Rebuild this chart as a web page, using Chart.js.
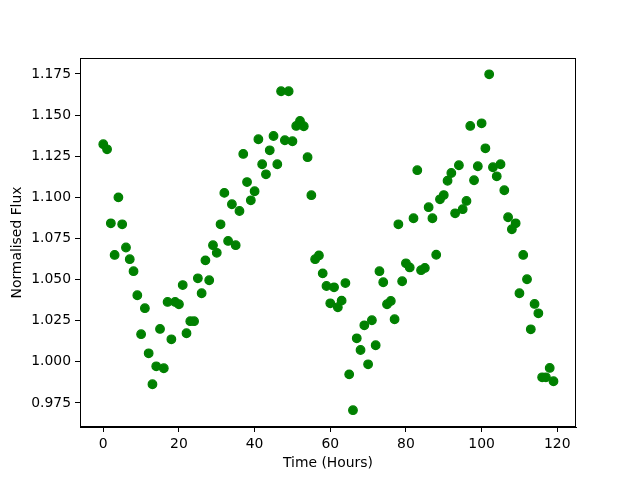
<!DOCTYPE html>
<html>
<head>
<meta charset="utf-8">
<script src="https://cdn.jsdelivr.net/npm/chart.js@4/dist/chart.umd.min.js"></script>
<style>
  body { margin: 0; background: #ffffff; }
  canvas { display: block; }
</style>
</head>
<body>
<canvas id="chart" width="640" height="480"></canvas>
<script>
// Data
const hours = [
  0, 1, 2, 3, 4, 5, 6, 7, 8, 9,
  10, 11, 12, 13, 14, 15, 16, 17, 18, 19,
  20, 21, 22, 23, 24, 25, 26, 27, 28, 29,
  30, 31, 32, 33, 34, 35, 36, 37, 38, 39,
  40, 41, 42, 43, 44, 45, 46, 47, 48, 49,
  50, 51, 52, 53, 54, 55, 56, 57, 58, 59,
  60, 61, 62, 63, 64, 65, 66, 67, 68, 69,
  70, 71, 72, 73, 74, 75, 76, 77, 78, 79,
  80, 81, 82, 83, 84, 85, 86, 87, 88, 89,
  90, 91, 92, 93, 94, 95, 96, 97, 98, 99,
  100, 101, 102, 103, 104, 105, 106, 107, 108, 109,
  110, 111, 112, 113, 114, 115, 116, 117, 118, 119
];
const flux = [
  1.1323, 1.1292, 1.0842, 1.0650, 1.1000, 1.0836, 1.0695, 1.0624, 1.0551, 1.0405,
  1.0168, 1.0326, 1.0052, 0.9864, 0.9973, 1.0200, 0.9961, 1.0364, 1.0137, 1.0364,
  1.0350, 1.0467, 1.0174, 1.0247, 1.0247, 1.0508, 1.0417, 1.0617, 1.0496, 1.0709,
  1.0663, 1.0836, 1.1027, 1.0735, 1.0958, 1.0709, 1.0917, 1.1264, 1.1093, 1.0982,
  1.1037, 1.1353, 1.1201, 1.1140, 1.1286, 1.1373, 1.1201, 1.1645, 1.1347, 1.1645,
  1.1341, 1.1434, 1.1464, 1.1432, 1.1244, 1.1013, 1.0624, 1.0647, 1.0538, 1.0461,
  1.0356, 1.0453, 1.0332, 1.0372, 1.0479, 0.9924, 0.9706, 1.0143, 1.0072, 1.0222,
  0.9985, 1.0253, 1.0101, 1.0551, 1.0484, 1.0350, 1.0370, 1.0259, 1.0836, 1.0490,
  1.0599, 1.0574, 1.0873, 1.1165, 1.0557, 1.0571, 1.0940, 1.0873, 1.0651, 1.0988,
  1.1014, 1.1101, 1.1148, 1.0903, 1.1195, 1.0928, 1.0978, 1.1434, 1.1104, 1.1189,
  1.1450, 1.1298, 1.1748, 1.1183, 1.1128, 1.1201, 1.1043, 1.0879, 1.0806, 1.0842,
  1.0417, 1.0650, 1.0502, 1.0198, 1.0352, 1.0295, 0.9906, 0.9906, 0.9963, 0.9882
];
const xTicks = [0, 20, 40, 60, 80, 100, 120];
const yTicks = [0.975, 1.000, 1.025, 1.050, 1.075, 1.100, 1.125, 1.150, 1.175];

let points = [];
for (let i = 0; i < hours.length; i++) {
  points.push({ x: hours[i], y: flux[i] });
}

Chart.defaults.font.family = "'DejaVu Sans', sans-serif";
Chart.defaults.font.size = 13.9;
Chart.defaults.color = "#000000";

// draw the box around the plot like matplotlib spines
const frame = {
  id: "frame",
  afterDraw(chart) {
    const { ctx, chartArea: a } = chart;
    ctx.save();
    ctx.strokeStyle = "#000000";
    ctx.lineWidth = 1;
    ctx.strokeRect(a.left + 0.5, a.top + 0.5, a.right - a.left - 1, a.bottom - a.top - 1);
    ctx.restore();
  }
};

let tickGrid = {
  display: true,
  drawOnChartArea: false,
  drawTicks: true,
  tickLength: 5,
  color: "#000000",
  tickWidth: 1
};

let config = {
  type: "scatter",
  data: {
    datasets: [{
      data: points,
      backgroundColor: "#008000",
      borderColor: "#008000",
      pointRadius: 4.3,
      pointHoverRadius: 4.3,
      borderWidth: 1.2
    }]
  },
  options: {
    responsive: false,
    animation: false,
    layout: { padding: { top: 58, right: 64, bottom: 0, left: 0 } },
    plugins: { legend: { display: false }, tooltip: { enabled: false } },
    scales: {
      x: {
        type: "linear",
        min: -6.15,
        max: 124.95,
        grid: tickGrid,
        border: { display: true, color: "#000000", width: 1 },
        ticks: { padding: 4, callback: (v) => String(v) },
        afterBuildTicks: (s) => { s.ticks = xTicks.map((v) => ({ value: v })); },
        afterFit: (s) => { s.height = 53; },
        title: { display: true, text: "Time (Hours)", padding: { top: 0, bottom: 8 } }
      },
      y: {
        type: "linear",
        min: 0.9604,
        max: 1.1847,
        grid: tickGrid,
        border: { display: true, color: "#000000", width: 1 },
        ticks: { padding: 4, callback: (v) => v.toFixed(3) },
        afterBuildTicks: (s) => { s.ticks = yTicks.map((v) => ({ value: v })); },
        afterFit: (s) => { s.width = 80; },
        title: { display: true, text: "Normalised Flux", padding: { top: 9, bottom: 0 } }
      }
    }
  },
  plugins: [frame]
};

new Chart(document.getElementById("chart").getContext("2d"), config);
</script>
</body>
</html>
